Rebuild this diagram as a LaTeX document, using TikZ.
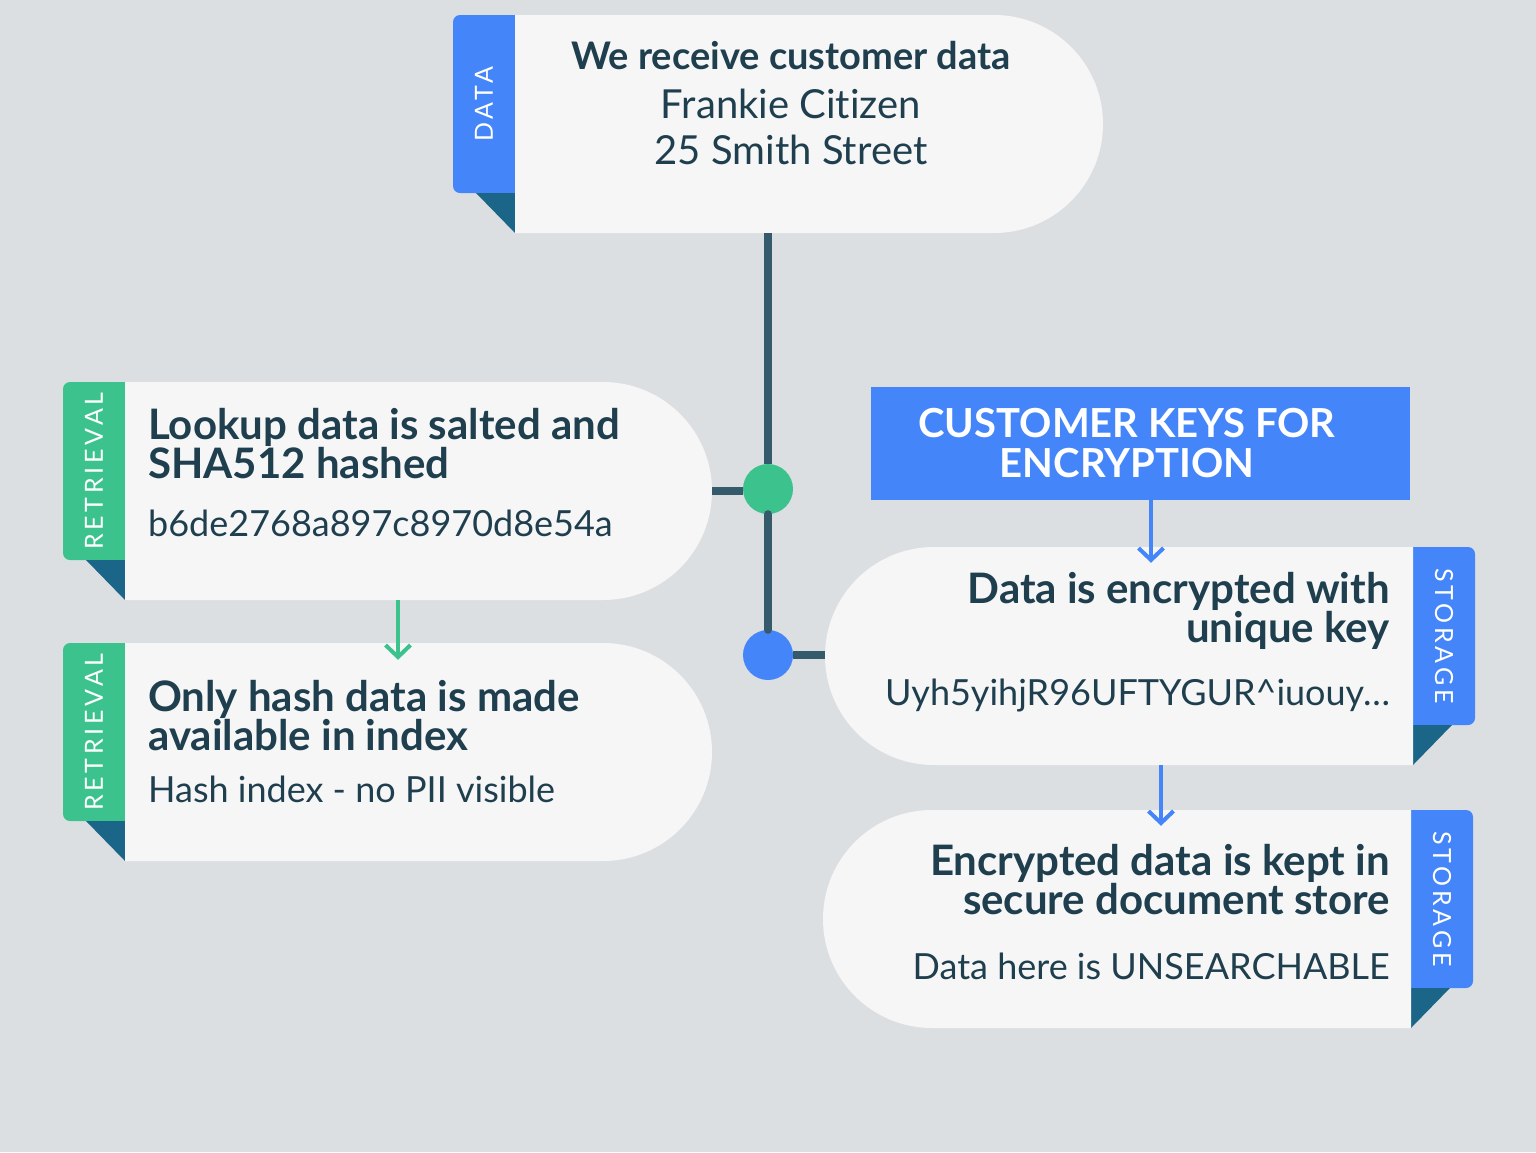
\documentclass[tikz,border=0pt]{standalone}
\usepackage{fontspec}
\setmainfont[Ligatures=NoCommon]{Lato}
\newfontfamily\tagfont[LetterSpace=15]{Lato}
\usepackage{tikz}
\usetikzlibrary{shapes.misc,arrows.meta,positioning}
\definecolor{bggray}{HTML}{DCDFE2}
\definecolor{cardgray}{HTML}{F6F6F6}
\definecolor{inkblue}{HTML}{1F3F4F}
\definecolor{linecol}{HTML}{355A6B}
\definecolor{keyblue}{HTML}{4485FA}
\definecolor{mintgreen}{HTML}{3CC28D}
\definecolor{foldblue}{HTML}{1B6688}

\begin{document}
\begin{tikzpicture}[
  x=1pt,y=-1pt,
  card/.style={fill=cardgray,rounded rectangle,minimum height=218pt,inner sep=0pt},
  cardR/.style={card,rounded rectangle left arc=none},
  cardL/.style={card,rounded rectangle right arc=none},
  tagbox/.style={rounded corners=7pt,minimum width=77pt,minimum height=178pt,inner sep=0pt},
  tagtxt/.style={text=white,inner sep=0pt,font=\tagfont\fontsize{25}{25}\selectfont},
  fold/.style={fill=foldblue},
  head/.style={text=inkblue,inner sep=0pt,font=\bfseries\fontsize{42}{39}\selectfont},
  sub/.style={text=inkblue,inner sep=0pt,font=\fontsize{36}{40}\selectfont},
  dot/.style={circle,minimum size=50pt,inner sep=0pt},
  link/.style={draw=linecol,line width=8pt,line cap=round},
  arr/.style={-{Straight Barb[length=12pt,width=25pt]},line width=4pt}
]
\fill[bggray] (0,0) rectangle (1536,1152);

\node[tagbox,fill=keyblue] (datatag) at (491.5,104) {};
\fill[fold] (476,193) -- (515,193) -- (515,233) -- cycle;
\node[cardR,minimum width=588pt] (datacard) at (809,124) {};
\node[tagtxt,rotate=90] at (484,104) {DATA};

\node[tagbox,fill=mintgreen] (hashtag) at (101.5,471) {};
\fill[fold] (86,560) -- (125,560) -- (125,600) -- cycle;
\node[cardR,minimum width=587pt] (hashcard) at (418.5,491) {};
\node[tagtxt,rotate=90] at (94,471) {RETRIEVAL};

\node[tagbox,fill=mintgreen] (indextag) at (101.5,732) {};
\fill[fold] (86,821) -- (125,821) -- (125,861) -- cycle;
\node[cardR,minimum width=587pt] (indexcard) at (418.5,752) {};
\node[tagtxt,rotate=90] at (94,732) {RETRIEVAL};

\node[tagbox,fill=keyblue] (enctag) at (1436.5,636) {};
\fill[fold] (1413,725) -- (1452,725) -- (1413,765) -- cycle;
\node[cardL,minimum width=588pt] (enccard) at (1119,656) {};
\node[tagtxt,rotate=-90] at (1444,636) {STORAGE};

\node[tagbox,fill=keyblue] (storetag) at (1434.5,899) {};
\fill[fold] (1411,988) -- (1450,988) -- (1411,1028) -- cycle;
\node[cardL,minimum width=588pt] (storecard) at (1117,919) {};
\node[tagtxt,rotate=-90] at (1442,899) {STORAGE};

\node[fill=keyblue,minimum width=539pt,minimum height=113pt] (keys) at (1140.5,443.5) {};
\node[text=white,align=center,inner sep=0pt,font=\bfseries\fontsize{40}{40}\selectfont] (keystxt) at (1127,443) {CUSTOMER KEYS FOR\\ENCRYPTION};

\node[dot,fill=mintgreen] (hashdot) at (768,489) {};
\node[dot,fill=keyblue] (encdot) at (768,655) {};
\draw[link,line cap=butt] (hashdot |- datacard.south) -- (hashdot.north);
\draw[link] (hashdot.south) -- (encdot.north);
\draw[link,line cap=butt] (hashcard.east) -- (hashcard.east -| hashdot.west);
\draw[link,line cap=butt] (encdot.east) -- (encdot.east -| enccard.west);

\coordinate (garr) at (398,0);
\coordinate (barr) at (1151,0);
\coordinate (carr) at (1161,0);
\draw[arr,mintgreen,shorten >=-17pt] (garr |- hashcard.south) -- (garr |- indexcard.north);
\draw[arr,keyblue,shorten >=-16pt] (barr |- keys.south) -- (barr |- enccard.north);
\draw[arr,keyblue,shorten >=-16pt] (carr |- enccard.south) -- (carr |- storecard.north);

\node[head,anchor=base,font=\bfseries\fontsize{38}{38}\selectfont] (datahead) at (791,69) {We receive customer data};
\node[sub,anchor=base,align=center,font=\fontsize{40}{46}\selectfont] (dataname) at (791,164) {Frankie Citizen\\25 Smith Street};

\node[head,anchor=base west,align=left] (hashhead) at (148,478) {Lookup data is salted and\\SHA512 hashed};
\node[sub,anchor=base west] (hashval) at (148,536) {b6de2768a897c8970d8e54a};

\node[head,anchor=base west,align=left] (indexhead) at (148,750) {Only hash data is made\\available in index};
\node[sub,anchor=base west] (indexval) at (148,802) {Hash index - no PII visible};

\node[head,anchor=base east,align=right] (enchead) at (1390,642) {Data is encrypted with\\unique key};
\node[sub,anchor=base east] (encval) at (1390,705) {Uyh5yihjR96UFTYGUR\textasciicircum iuouy\ldots};

\node[head,anchor=base east,align=right] (storehead) at (1390,914) {Encrypted data is kept in\\secure document store};
\node[sub,anchor=base east] (storeval) at (1390,979) {Data here is UNSEARCHABLE};
\end{tikzpicture}
\end{document}
